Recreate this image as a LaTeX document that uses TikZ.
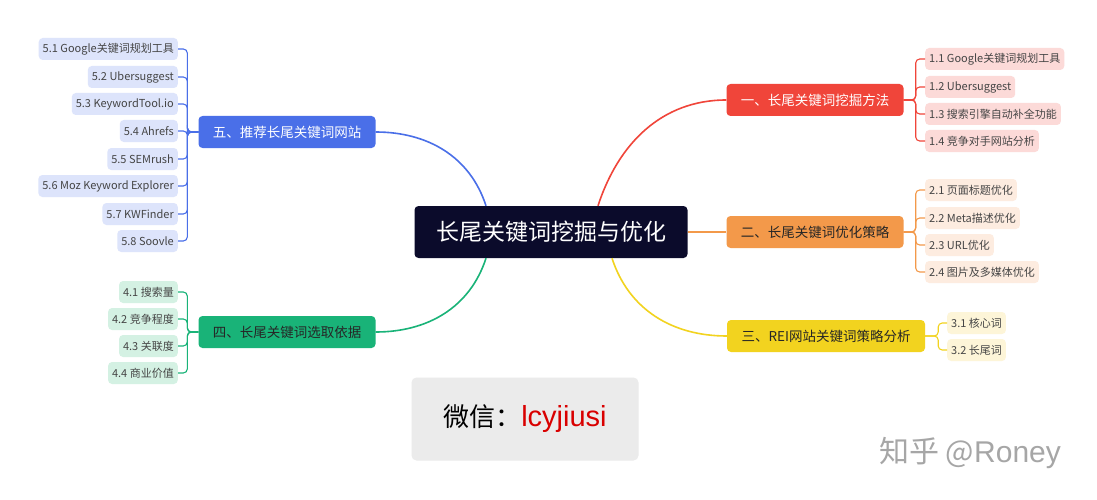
\documentclass[tikz,border=0pt]{standalone}
\usepackage{fontspec}
\setmainfont{Noto Sans CJK SC}
\newfontfamily\arialike{Liberation Sans}
\usepackage{tikz}

\definecolor{rootbg}{HTML}{0B0B2B}
\definecolor{redm}{HTML}{F0453A}
\definecolor{redl}{HTML}{FCDAD8}
\definecolor{orgm}{HTML}{F3994A}
\definecolor{orgl}{HTML}{FDECE0}
\definecolor{yelm}{HTML}{F2D31F}
\definecolor{yell}{HTML}{FDF5D8}
\definecolor{grnm}{HTML}{19B378}
\definecolor{grnl}{HTML}{D4F1E3}
\definecolor{blum}{HTML}{4A6FE8}
\definecolor{blul}{HTML}{DDE4FB}
\definecolor{leaftext}{HTML}{454545}

\tikzset{
  topic/.style={rounded corners=4pt, minimum width=177pt, minimum height=32pt,
    inner sep=0pt, font=\fontsize{13.5}{15}\selectfont},
  leaf/.style={rounded corners=4pt, minimum height=22pt, inner xsep=4pt, inner ysep=0pt,
    text=leaftext, font=\fontsize{11}{13}\selectfont},
  rleaf/.style={leaf, anchor=west},
  lleaf/.style={leaf, anchor=east},
  branch/.style={line width=1.6pt},
  bracket/.style={line width=1.1pt, rounded corners=4pt}
}

\begin{document}
\begin{tikzpicture}[x=1pt,y=-1pt]
  \useasboundingbox[fill=white] (0,0) rectangle (1097,500);

  % root
  \node[fill=rootbg, text=white, rounded corners=4pt, minimum width=273pt, minimum height=52pt,
        font=\fontsize{23}{26}\selectfont] (root) at (551,232) {长尾关键词挖掘与优化};

  % main topics
  \node[topic, fill=redm, text=white] (t1) at (815,100) {一、长尾关键词挖掘方法};
  \node[topic, fill=orgm, text=black!85] (t2) at (815,232) {二、长尾关键词优化策略};
  \node[topic, fill=yelm, text=black!85, minimum width=198pt] (t3) at (826,336) {三、REI网站关键词策略分析};
  \node[topic, fill=grnm, text=black!85] (t4) at (287,332) {四、长尾关键词选取依据};
  \node[topic, fill=blum, text=white] (t5) at (287,132) {五、推荐长尾关键词网站};

  % root to topics
  \draw[branch, redm] ([xshift=47pt]root.north) to[out=72,in=180] (t1.west);
  \draw[branch, orgm] (root.east) -- (t2.west);
  \draw[branch, yelm] ([xshift=61pt]root.south) to[out=-72,in=180] (t3.west);
  \draw[branch, grnm] ([xshift=-65pt]root.south) to[out=-108,in=0] (t4.east);
  \draw[branch, blum] ([xshift=-65pt]root.north) to[out=108,in=0] (t5.east);

  % leaves of topic 1
  \node[rleaf, fill=redl] (l11) at (925,59) {1.1 Google关键词规划工具};
  \node[rleaf, fill=redl] (l12) at (925,87) {1.2 Ubersuggest};
  \node[rleaf, fill=redl] (l13) at (925,114) {1.3 搜索引擎自动补全功能};
  \node[rleaf, fill=redl] (l14) at (925,141) {1.4 竞争对手网站分析};
  \foreach \n in {l11,l12,l13,l14}
    \draw[bracket, redm] (t1.east) -- ([xshift=12pt]t1.east) |- (\n.west);

  % leaves of topic 2
  \node[rleaf, fill=orgl] (l21) at (925,190) {2.1 页面标题优化};
  \node[rleaf, fill=orgl] (l22) at (925,218) {2.2 Meta描述优化};
  \node[rleaf, fill=orgl] (l23) at (925,245) {2.3 URL优化};
  \node[rleaf, fill=orgl] (l24) at (925,272) {2.4 图片及多媒体优化};
  \foreach \n in {l21,l22,l23,l24}
    \draw[bracket, orgm] (t2.east) -- ([xshift=12pt]t2.east) |- (\n.west);

  % leaves of topic 3
  \node[rleaf, fill=yell] (l31) at (947,323) {3.1 核心词};
  \node[rleaf, fill=yell] (l32) at (947,350) {3.2 长尾词};
  \foreach \n in {l31,l32}
    \draw[bracket, yelm] (t3.east) -- ([xshift=13pt]t3.east) |- (\n.west);

  % leaves of topic 4
  \node[lleaf, fill=grnl] (l41) at (178,292) {4.1 搜索量};
  \node[lleaf, fill=grnl] (l42) at (178,319) {4.2 竞争程度};
  \node[lleaf, fill=grnl] (l43) at (178,346) {4.3 关联度};
  \node[lleaf, fill=grnl] (l44) at (178,373) {4.4 商业价值};
  \foreach \n in {l41,l42,l43,l44}
    \draw[bracket, grnm] (t4.west) -- ([xshift=-11pt]t4.west) |- (\n.east);

  % leaves of topic 5
  \node[lleaf, fill=blul] (l51) at (178,49) {5.1 Google关键词规划工具};
  \node[lleaf, fill=blul] (l52) at (178,77) {5.2 Ubersuggest};
  \node[lleaf, fill=blul] (l53) at (178,104) {5.3 KeywordTool.io};
  \node[lleaf, fill=blul] (l54) at (178,131) {5.4 Ahrefs};
  \node[lleaf, fill=blul] (l55) at (178,159) {5.5 SEMrush};
  \node[lleaf, fill=blul] (l56) at (178,186) {5.6 Moz Keyword Explorer};
  \node[lleaf, fill=blul] (l57) at (178,214) {5.7 KWFinder};
  \node[lleaf, fill=blul] (l58) at (178,241) {5.8 Soovle};
  \foreach \n in {l51,l52,l53,l54,l55,l56,l57,l58}
    \draw[bracket, blum] (t5.west) -- ([xshift=-11pt]t5.west) |- (\n.east);

  % contact box and watermark
  \node[fill=black!8, rounded corners=5pt, minimum width=227pt, minimum height=83pt,
        font=\fontsize{26}{30}\selectfont] (wx) at (525,419) {微信：\textcolor{red!85!black}{\arialike\fontsize{29}{32}\selectfont lcyjiusi}};
  \node[text=black!35, font=\fontsize{30}{34}\selectfont] (mark) at (970,453) {知乎 @\arialike Roney};
\end{tikzpicture}
\end{document}
